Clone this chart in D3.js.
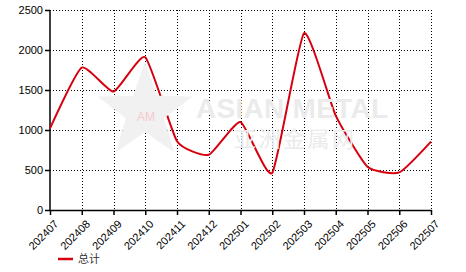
<!DOCTYPE html>
<html>
<head>
<meta charset="utf-8">
<script src="https://cdn.jsdelivr.net/npm/d3@7"></script>
<style>
  body { margin: 0; background: #fff; }
  svg text { font-family: "Liberation Sans", Arial, sans-serif; }
</style>
</head>
<body>
<div id="chart"></div>
<script>
// 月份（横轴类别）
const months = ["202407", "202408", "202409", "202410", "202411", "202412", "202501",
  "202502", "202503", "202504", "202505", "202506", "202507"];
// 总计
const totals = [1020, 1780, 1480, 1910, 860, 690, 1100, 465, 2210, 1180, 540, 470, 855];
// y 轴刻度
const yTicks = [0, 500, 1000, 1500, 2000, 2500];

const W = 466, H = 272;
const margin = { top: 10, right: 35, bottom: 62, left: 50 };
const width = W - margin.left - margin.right;
const height = H - margin.top - margin.bottom;

const svg = d3.select("#chart").append("svg")
  .attr("width", W)
  .attr("height", H);

const x = d3.scalePoint().domain(months).range([0, width]);
const y = d3.scaleLinear().domain([0, 2500]).range([height, 0]);

const g = svg.append("g").attr("transform", `translate(${margin.left},${margin.top})`);

// 水印
const wm = svg.append("g").attr("pointer-events", "none");
const star = d3.range(10).map(i => {
  const a = -Math.PI / 2 + i * Math.PI / 5;
  const r = i % 2 === 0 ? 50 : 20;
  return [145 + r * Math.cos(a), 112 + r * Math.sin(a)];
});
wm.append("polygon")
  .attr("points", star.map(p => p.join(",")).join(" "))
  .attr("fill", "#f1f1f1");
wm.append("text").attr("x", 146).attr("y", 121).attr("text-anchor", "middle")
  .attr("font-size", 12).attr("fill", "#f7c9cc").text("AM");
wm.append("text").attr("x", 196).attr("y", 118)
  .attr("font-size", 28).attr("font-weight", "bold").attr("fill", "#ebebeb")
  .attr("textLength", 192).text("ASIAN METAL");
wm.append("text").attr("x", 234).attr("y", 147)
  .style("font-family", "'Noto Sans CJK SC', sans-serif")
  .attr("font-size", 22).attr("fill", "#ebebeb")
  .attr("textLength", 120).text("亚洲金属网");

// 网格
g.append("g").selectAll("line").data(yTicks.filter(d => d > 0)).join("line")
  .attr("x1", 0).attr("x2", width)
  .attr("y1", d => y(d) + 0.5).attr("y2", d => y(d) + 0.5)
  .attr("stroke", "#000").attr("stroke-dasharray", "1,2");
g.append("g").selectAll("line").data(months.slice(1)).join("line")
  .attr("x1", d => Math.round(x(d)) + 0.5).attr("x2", d => Math.round(x(d)) + 0.5)
  .attr("y1", 0).attr("y2", height)
  .attr("stroke", "#000").attr("stroke-dasharray", "1,2");

// 坐标轴
const yAxis = g.append("g")
  .call(d3.axisLeft(y).tickValues(yTicks).tickFormat(d3.format("d")).tickSize(5).tickPadding(2));
const xAxis = g.append("g")
  .attr("transform", `translate(0,${height})`)
  .call(d3.axisBottom(x).tickSize(5).tickSizeOuter(0));
[yAxis, xAxis].forEach(a => {
  a.select(".domain").attr("stroke", "#000").attr("stroke-width", 1.5);
  a.selectAll(".tick line").attr("stroke", "#000").attr("stroke-width", 1.5);
  a.selectAll("text").attr("fill", "#000").attr("font-size", 11)
    .style("font-family", "'Liberation Sans', Arial, sans-serif");
});
yAxis.select(".domain").attr("d", `M0,${height}V0`);
xAxis.selectAll("text")
  .attr("text-anchor", "end")
  .attr("dy", 0)
  .attr("transform", "translate(3,9) rotate(-45)");

// 折线
g.append("path")
  .datum(totals)
  .attr("fill", "none")
  .attr("stroke", "#d7000f")
  .attr("stroke-width", 2)
  .attr("d", d3.line()
    .x((d, i) => x(months[i]))
    .y(d => y(d))
    .curve(d3.curveCardinal.tension(0.5)));

// 图例
const legend = svg.append("g").attr("transform", "translate(58,259)");
legend.append("line").attr("x1", 0).attr("x2", 15).attr("y1", 0).attr("y2", 0)
  .attr("stroke", "#d7000f").attr("stroke-width", 2.5);
legend.append("text").attr("x", 20).attr("y", 4)
  .attr("font-size", 11).attr("fill", "#333")
  .style("font-family", "'Noto Sans CJK SC', sans-serif")
  .text("总计");
</script>
</body>
</html>
